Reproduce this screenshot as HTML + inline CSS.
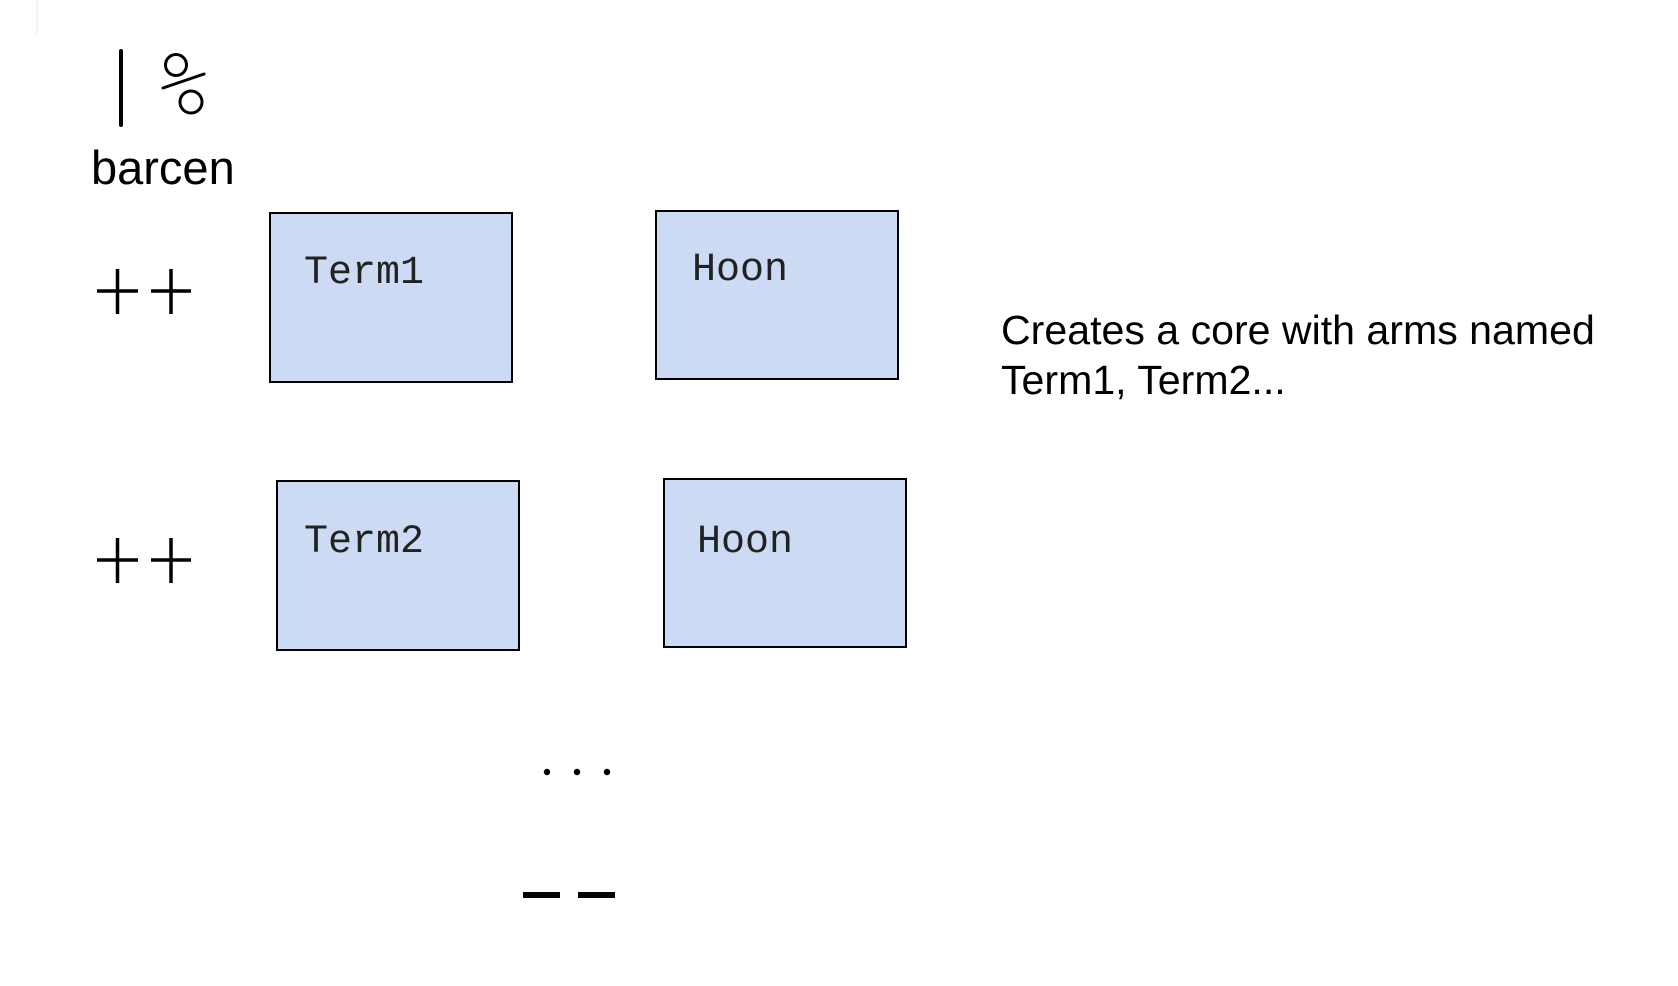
<!DOCTYPE html>
<html><head><meta charset="utf-8"><style>
body{margin:0;width:1678px;height:986px;background:#fff;position:relative;overflow:hidden}
.box{position:absolute;background:#cddaf4;border:2px solid #000;box-sizing:border-box}
.mono{position:absolute;font-family:"Liberation Mono",monospace;font-size:40px;color:#222;line-height:1}
.sans{position:absolute;font-family:"Liberation Sans",sans-serif;color:#000;line-height:1;white-space:nowrap}
</style></head><body>
<div class="box" style="left:269px;top:212px;width:244px;height:171px"></div>
<div class="box" style="left:655px;top:210px;width:244px;height:170px"></div>
<div class="box" style="left:276px;top:480px;width:244px;height:171px"></div>
<div class="box" style="left:663px;top:478px;width:244px;height:170px"></div>
<div class="mono" style="left:304px;top:254px">Term1</div>
<div class="mono" style="left:692px;top:251px">Hoon</div>
<div class="mono" style="left:304px;top:523px">Term2</div>
<div class="mono" style="left:697px;top:523px">Hoon</div>
<div class="sans" style="left:91px;top:144px;font-size:47px">barcen</div>
<div class="sans" style="left:1001px;top:310px;font-size:41.1px">Creates a core with arms named</div>
<div class="sans" style="left:1001px;top:360px;font-size:41.1px">Term1, Term2...</div>
<svg width="1678" height="986" style="position:absolute;left:0;top:0">
<line x1="37" y1="0" x2="37" y2="34" stroke="#f2f2f2" stroke-width="2"/>
<line x1="121" y1="51" x2="121" y2="125" stroke="#000" stroke-width="4" stroke-linecap="round"/>
<circle cx="176" cy="65" r="10.5" fill="none" stroke="#000" stroke-width="3"/>
<circle cx="191" cy="102" r="11" fill="none" stroke="#000" stroke-width="3"/>
<line x1="163" y1="88" x2="204" y2="74" stroke="#000" stroke-width="3" stroke-linecap="round"/>
<g stroke="#000" stroke-width="3.5">
<line x1="97" y1="291" x2="138" y2="291"/><line x1="117.5" y1="269" x2="117.5" y2="314"/>
<line x1="151" y1="291" x2="191" y2="291"/><line x1="171" y1="269" x2="171" y2="314"/>
<line x1="97" y1="560" x2="138" y2="560"/><line x1="117.5" y1="538" x2="117.5" y2="583"/>
<line x1="151" y1="560" x2="191" y2="560"/><line x1="171" y1="538" x2="171" y2="583"/>
</g>
<circle cx="547" cy="772" r="3.2" fill="#000"/>
<circle cx="577" cy="772" r="3.2" fill="#000"/>
<circle cx="607" cy="772" r="3.2" fill="#000"/>
<rect x="523" y="892" width="37" height="6" fill="#000"/>
<rect x="578" y="892" width="37" height="6" fill="#000"/>
</svg>
</body></html>
